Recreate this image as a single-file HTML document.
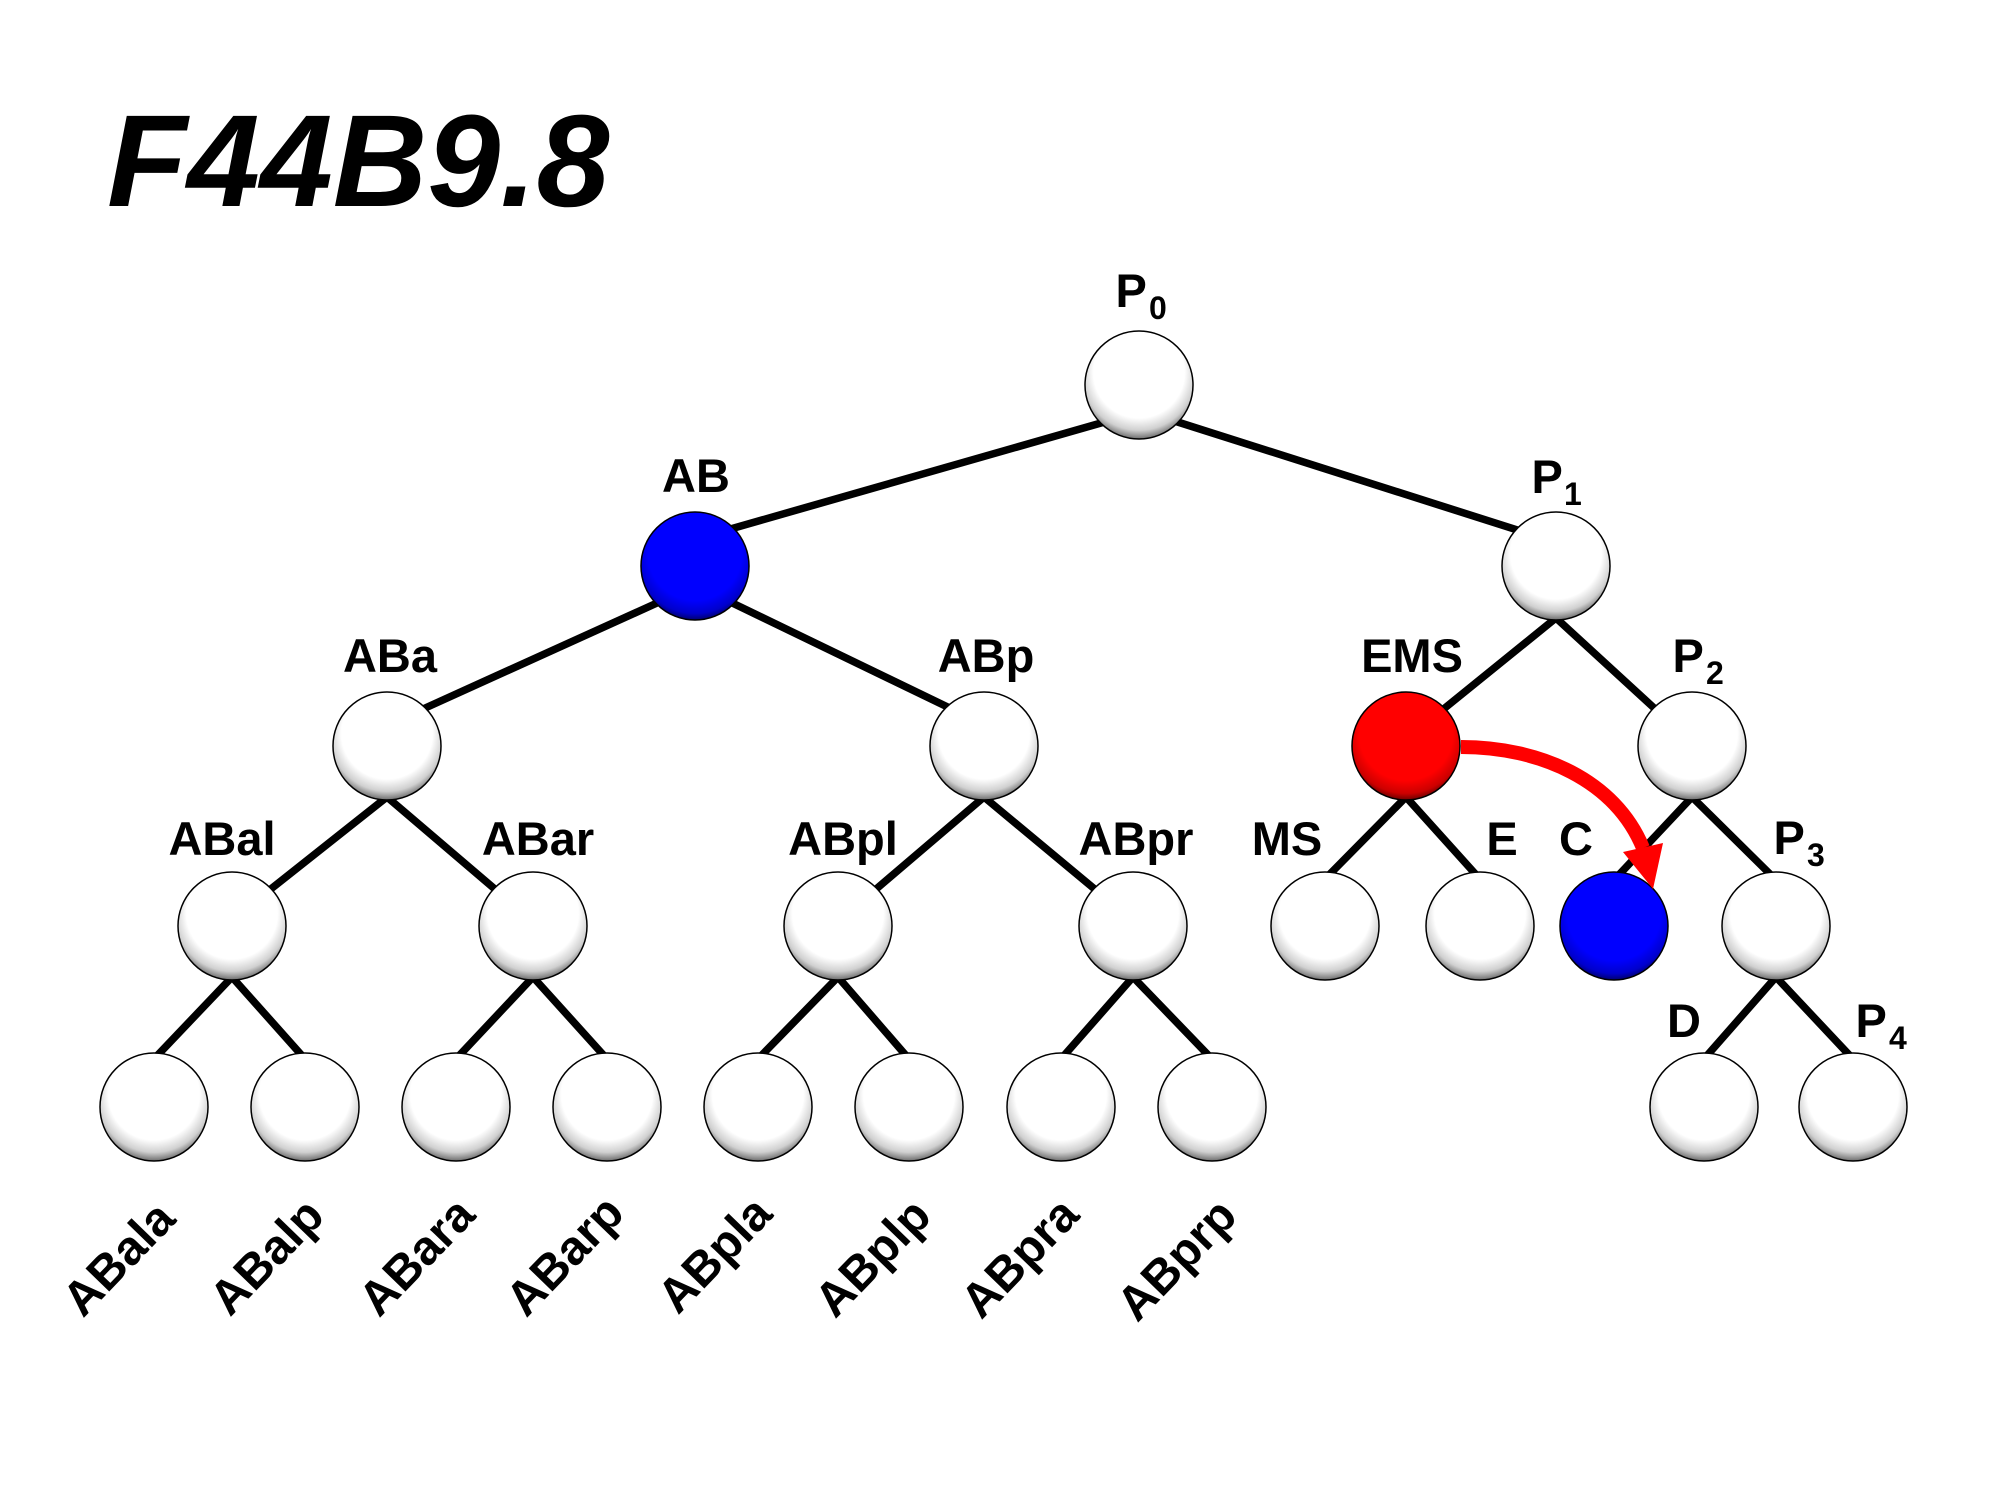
<!DOCTYPE html>
<html><head><meta charset="utf-8"><style>
html,body{margin:0;padding:0;background:#fff;}
svg{display:block;}
text{font-family:"Liberation Sans",Arial,sans-serif;font-weight:bold;fill:#000;}
</style></head><body>
<svg width="1990" height="1493" viewBox="0 0 1990 1493" xmlns="http://www.w3.org/2000/svg">
<defs>
<radialGradient id="gw" cx="0.5" cy="0.4" r="0.62" fx="0.5" fy="0.35">
<stop offset="0" stop-color="#ffffff"/><stop offset="0.68" stop-color="#ffffff"/><stop offset="0.85" stop-color="#d0d0d0"/><stop offset="1" stop-color="#555555"/>
</radialGradient>
<radialGradient id="gb" cx="0.5" cy="0.4" r="0.62" fx="0.5" fy="0.35">
<stop offset="0" stop-color="#0000ff"/><stop offset="0.7" stop-color="#0000ff"/><stop offset="0.88" stop-color="#0000cc"/><stop offset="1" stop-color="#000050"/>
</radialGradient>
<radialGradient id="gr" cx="0.5" cy="0.4" r="0.62" fx="0.5" fy="0.35">
<stop offset="0" stop-color="#ff0000"/><stop offset="0.7" stop-color="#ff0000"/><stop offset="0.88" stop-color="#cc0000"/><stop offset="1" stop-color="#500000"/>
</radialGradient>
</defs>
<rect width="1990" height="1493" fill="#fff"/>

<text x="107" y="206" font-size="131" font-style="italic">F44B9.8</text>

<g stroke="#000" stroke-width="7.5" fill="none" stroke-linejoin="miter">
<line x1="1115" y1="419" x2="720" y2="532"/>
<line x1="1165" y1="418" x2="1530" y2="534"/>
<line x1="668" y1="598" x2="412" y2="714"/>
<line x1="722" y1="598" x2="960" y2="713"/>
<polyline points="1430,720 1556,618 1665,718"/>
<polyline points="262,896 387,797 503,896"/>
<polyline points="868,896 984,797 1103,896"/>
<polyline points="1326,878 1406,797 1479,878"/>
<polyline points="1616,878 1692,797 1774,878"/>
<polyline points="154,1059 232,977 305,1059"/>
<polyline points="456,1059 533,977 607,1059"/>
<polyline points="758,1059 838,977 909,1059"/>
<polyline points="1061,1059 1133,977 1212,1059"/>
<polyline points="1704,1059 1776,977 1853,1059"/>
</g>

<g stroke="#000" stroke-width="1.5">
<circle cx="1139" cy="385" r="54" fill="url(#gw)"/>
<circle cx="695" cy="566" r="54" fill="url(#gb)"/>
<circle cx="1556" cy="566" r="54" fill="url(#gw)"/>
<circle cx="387" cy="746" r="54" fill="url(#gw)"/>
<circle cx="984" cy="746" r="54" fill="url(#gw)"/>
<circle cx="1406" cy="746" r="54" fill="url(#gr)"/>
<circle cx="1692" cy="746" r="54" fill="url(#gw)"/>
<circle cx="232" cy="926" r="54" fill="url(#gw)"/>
<circle cx="533" cy="926" r="54" fill="url(#gw)"/>
<circle cx="838" cy="926" r="54" fill="url(#gw)"/>
<circle cx="1133" cy="926" r="54" fill="url(#gw)"/>
<circle cx="1325" cy="926" r="54" fill="url(#gw)"/>
<circle cx="1480" cy="926" r="54" fill="url(#gw)"/>
<circle cx="1614" cy="926" r="54" fill="url(#gb)"/>
<circle cx="1776" cy="926" r="54" fill="url(#gw)"/>
<circle cx="154" cy="1107" r="54" fill="url(#gw)"/>
<circle cx="305" cy="1107" r="54" fill="url(#gw)"/>
<circle cx="456" cy="1107" r="54" fill="url(#gw)"/>
<circle cx="607" cy="1107" r="54" fill="url(#gw)"/>
<circle cx="758" cy="1107" r="54" fill="url(#gw)"/>
<circle cx="909" cy="1107" r="54" fill="url(#gw)"/>
<circle cx="1061" cy="1107" r="54" fill="url(#gw)"/>
<circle cx="1212" cy="1107" r="54" fill="url(#gw)"/>
<circle cx="1704" cy="1107" r="54" fill="url(#gw)"/>
<circle cx="1853" cy="1107" r="54" fill="url(#gw)"/>
</g>

<!-- red arrow -->
<path d="M1461,747 C1540,747 1615,780 1643,848" stroke="#ff0000" stroke-width="14" fill="none"/>
<polygon points="1623,852 1663,843 1653,889" fill="#ff0000"/>

<!-- labels -->
<g font-size="47">
<text x="1115.5" y="307">P</text>
<text x="696" y="492" text-anchor="middle">AB</text>
<text x="1531.5" y="493">P</text>
<text x="390" y="672" text-anchor="middle">ABa</text>
<text x="986" y="672" text-anchor="middle">ABp</text>
<text x="1412" y="672" text-anchor="middle">EMS</text>
<text x="1672.5" y="672">P</text>
<text x="222" y="855" text-anchor="middle">ABal</text>
<text x="538" y="855" text-anchor="middle">ABar</text>
<text x="843" y="855" text-anchor="middle">ABpl</text>
<text x="1136" y="855" text-anchor="middle">ABpr</text>
<text x="1287" y="855" text-anchor="middle">MS</text>
<text x="1502" y="855" text-anchor="middle">E</text>
<text x="1576" y="855" text-anchor="middle">C</text>
<text x="1773.5" y="854">P</text>
<text x="1684" y="1037" text-anchor="middle">D</text>
<text x="1855.5" y="1037">P</text>
</g>
<g font-size="32">
<text x="1149" y="319">0</text>
<text x="1564" y="505">1</text>
<text x="1706" y="684">2</text>
<text x="1807" y="866">3</text>
<text x="1889" y="1049">4</text>
</g>

<g font-size="48" text-anchor="middle">
<text x="118" y="1275" transform="rotate(-46 118 1258)">ABala</text>
<text x="266" y="1273" transform="rotate(-46 266 1256)">ABalp</text>
<text x="416" y="1273" transform="rotate(-46 416 1256)">ABara</text>
<text x="564" y="1272" transform="rotate(-46 564 1255)">ABarp</text>
<text x="714" y="1271" transform="rotate(-46 714 1254)">ABpla</text>
<text x="872" y="1274" transform="rotate(-46 872 1257)">ABplp</text>
<text x="1019" y="1274" transform="rotate(-46 1019 1257)">ABpra</text>
<text x="1176" y="1276" transform="rotate(-46 1176 1259)">ABprp</text>
</g>
</svg>
</body></html>
